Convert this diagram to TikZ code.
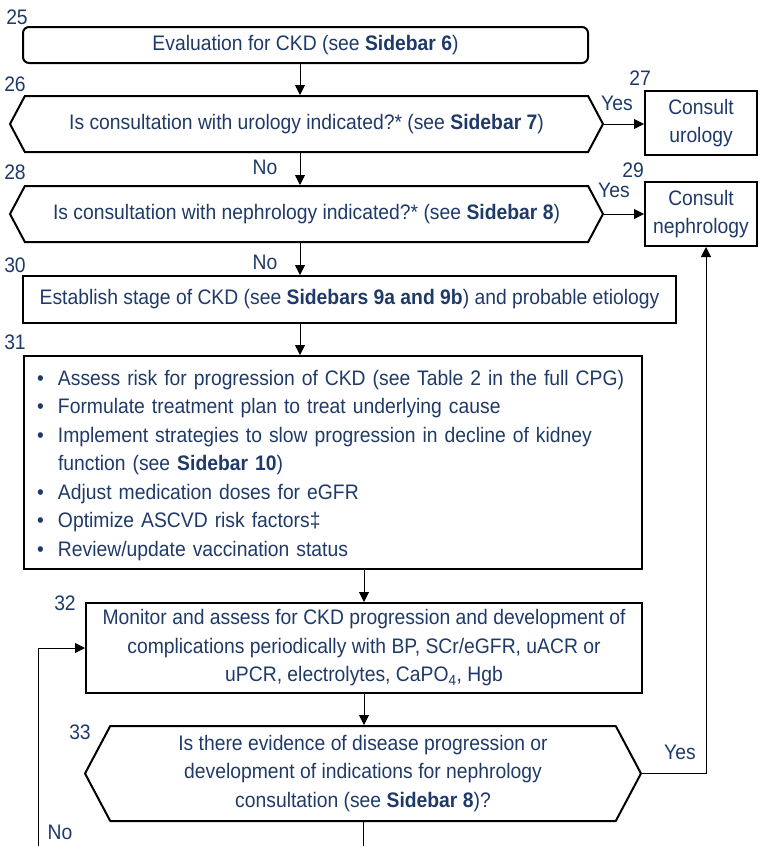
\documentclass[tikz,border=0pt]{standalone}
\usepackage{fontspec}
\setmainfont{Liberation Sans}[FakeStretch=0.92]
\usetikzlibrary{arrows.meta, shapes.symbols}
\definecolor{ckdnavy}{HTML}{1F3A68}
\newcommand{\ckditem}[1]{\par\hangindent=21pt\hangafter=1\noindent\makebox[21pt][l]{\textbullet}#1}

\begin{document}
\begin{tikzpicture}[x=1pt, y=-1pt,
  every node/.style={font=\fontsize{21}{28.5}\selectfont, text=ckdnavy},
  box/.style={draw=black, line width=2pt, inner sep=0pt, align=center},
  hexbox/.style={box, shape=signal, signal to=west and east, signal pointer angle=124},
  arr/.style={draw=black, line width=1pt, -{Triangle[length=10pt,width=10pt]}},
  tag/.style={inner sep=0pt}]
\useasboundingbox (0,0) rectangle (760,846);

% boxes
\node[box, rounded corners=6pt, minimum width=565pt, minimum height=36pt] (eval) at (305.5,45) {Evaluation for CKD (see \textbf{Sidebar 6})};
\node[hexbox, minimum width=593pt, minimum height=56pt] (urq) at (306.5,124) {Is consultation with urology indicated?* (see \textbf{Sidebar 7})};
\node[box, minimum width=112pt, minimum height=64pt] (urology) at (701,123) {Consult\\urology};
\node[hexbox, minimum width=593pt, minimum height=56pt] (nephq) at (306.5,214) {Is consultation with nephrology indicated?* (see \textbf{Sidebar 8})};
\node[box, minimum width=112pt, minimum height=64pt] (nephrology) at (701,214) {Consult\\nephrology};
\node[box, minimum width=653pt, minimum height=47pt] (stage) at (349.5,299.5) {Establish stage of CKD (see \textbf{Sidebars 9a and 9b}) and probable etiology};
\node[box, anchor=north west, text width=592pt, minimum height=213pt, inner xsep=13pt, align=left] (plan) at (23,355) {%
  \ckditem{Assess risk for progression of CKD (see Table 2 in the full CPG)}
  \ckditem{Formulate treatment plan to treat underlying cause}
  \ckditem{Implement strategies to slow progression in decline of kidney\newline function (see \textbf{Sidebar 10})}
  \ckditem{Adjust medication doses for eGFR}
  \ckditem{Optimize ASCVD risk factors‡}
  \ckditem{Review/update vaccination status}\par\vspace{8pt}};
\node[box, minimum width=556pt, minimum height=90pt] (monitor) at (364,648) {Monitor and assess for CKD progression and development of\\complications periodically with BP, SCr/eGFR, uACR or\\uPCR, electrolytes, CaPO\textsubscript{4}, Hgb};
\node[hexbox, minimum width=556pt, minimum height=95pt] (progq) at (363,773.5) {Is there evidence of disease progression or\\development of indications for nephrology\\consultation (see \textbf{Sidebar 8})?};

% step numbers
\node[tag] (t25) at (17,17) {25};
\node[tag] (t26) at (15,84) {26};
\node[tag] (t27) at (640,78) {27};
\node[tag] (t28) at (15,172) {28};
\node[tag] (t29) at (633,170) {29};
\node[tag] (t30) at (15,265) {30};
\node[tag] (t31) at (15,342) {31};
\node[tag] (t32) at (65,603) {32};
\node[tag] (t33) at (80,732) {33};

% answers
\node[tag] (yes27) at (617,103) {Yes};
\node[tag] (yes29) at (614,190) {Yes};
\node[tag] (no26) at (265,167) {No};
\node[tag] (no28) at (265,262) {No};
\node[tag] (yes33) at (680,752) {Yes};
\node[tag] (no33) at (60,832) {No};

% connectors
\coordinate (spine) at (300,0);
\coordinate (noend) at (359,846);
\coordinate (loopstart) at (38,846);
\draw[arr] (eval.south -| spine) -- (urq.north -| spine);
\draw[arr] (urq.east) -- (urq.east -| urology.west);
\draw[arr] (urq.south -| spine) -- (nephq.north -| spine);
\draw[arr] (nephq.east) -- (nephrology.west);
\draw[arr] (nephq.south -| spine) -- (stage.north -| spine);
\draw[arr] (stage.south -| spine) -- (plan.north -| spine);
\draw[arr] (plan.south -| monitor.north) -- (monitor.north);
\draw[arr] (monitor.south) -- (monitor.south |- progq.north);
\draw[arr] (progq.east) -| ([xshift=5pt]nephrology.south);
\draw[line width=1pt] (progq.south) -- (progq.south |- noend);
\draw[arr] (loopstart) |- (monitor.west);
\end{tikzpicture}
\end{document}
